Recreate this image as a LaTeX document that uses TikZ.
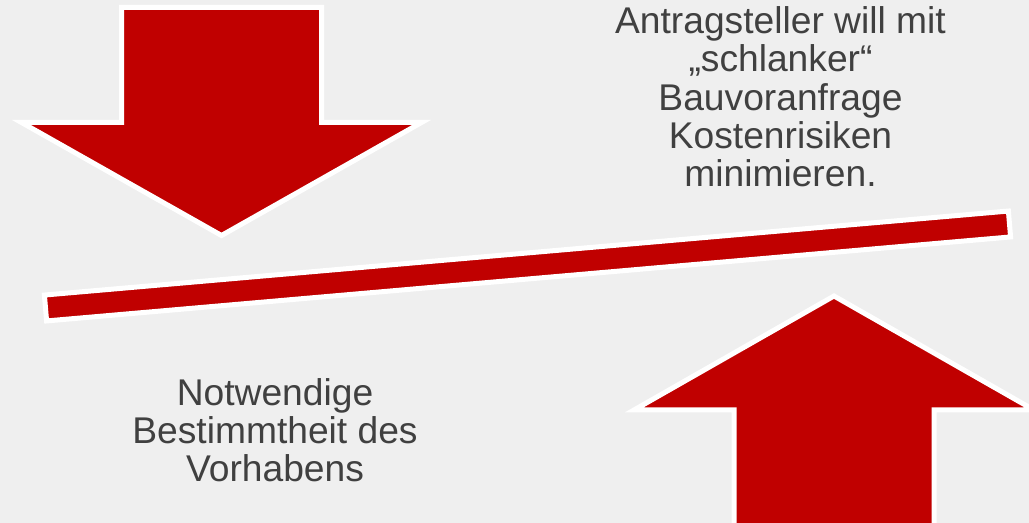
\documentclass[tikz,border=0pt]{standalone}
\usepackage{fontspec}
\setmainfont{Liberation Sans}
\definecolor{bgGrey}{HTML}{EFEFEF}
\definecolor{arrowRed}{HTML}{C00000}
\definecolor{textGrey}{HTML}{404040}

\begin{document}
\begin{tikzpicture}[x=0.5pt, y=-0.5pt,
    redshape/.style={fill=arrowRed, draw=white, line width=2.5pt, line join=miter},
    sidetext/.style={text=textGrey, align=center, inner sep=0pt,
      font=\fontsize{18.6}{19.2}\selectfont}]
    % --- 1. background and frame ---
    \fill[bgGrey] (0,0) rectangle (1029,523);
    \useasboundingbox (0,0) rectangle (1029,523);
    \clip (0,0) rectangle (1029,523);

    % --- 2. down arrow (top left) ---
    \coordinate (D_tl) at (121.5, 7.5);
    \coordinate (D_tr) at (321.5, 7.5);
    \coordinate (D_tip) at (221.5, 235.5);
    \draw[redshape] (D_tl) -- (D_tr) -- (321.5,122.5) -- (421.5,122.5)
      -- (D_tip) -- (21.5,122.5) -- (121.5,122.5) -- cycle;

    % --- 3. up arrow (bottom right) ---
    \coordinate (U_tip) at (834, 296);
    \draw[redshape] (U_tip) -- (1034,410) -- (934,410) -- (934,540)
      -- (734,540) -- (734,410) -- (634,410) -- cycle;

    % --- 4. tilted bar ---
    \coordinate (B_lt) at (44.4, 295.05);
    \coordinate (B_rt) at (1008.4, 211.05);
    \coordinate (B_rb) at (1010.6, 236.95);
    \coordinate (B_lb) at (46.6, 320.95);
    \draw[redshape] (B_lt) -- (B_rt) -- (B_rb) -- (B_lb) -- cycle;

    % --- 5. texts (base = last line) ---
    \node[sidetext, anchor=base] (applicant) at (780.5, 187)
      {Antragsteller will mit\\„schlanker“\\Bauvoranfrage\\Kostenrisiken\\minimieren.};
    \node[sidetext, anchor=base] (certainty) at (275, 482)
      {Notwendige\\Bestimmtheit des\\Vorhabens};
\end{tikzpicture}
\end{document}
